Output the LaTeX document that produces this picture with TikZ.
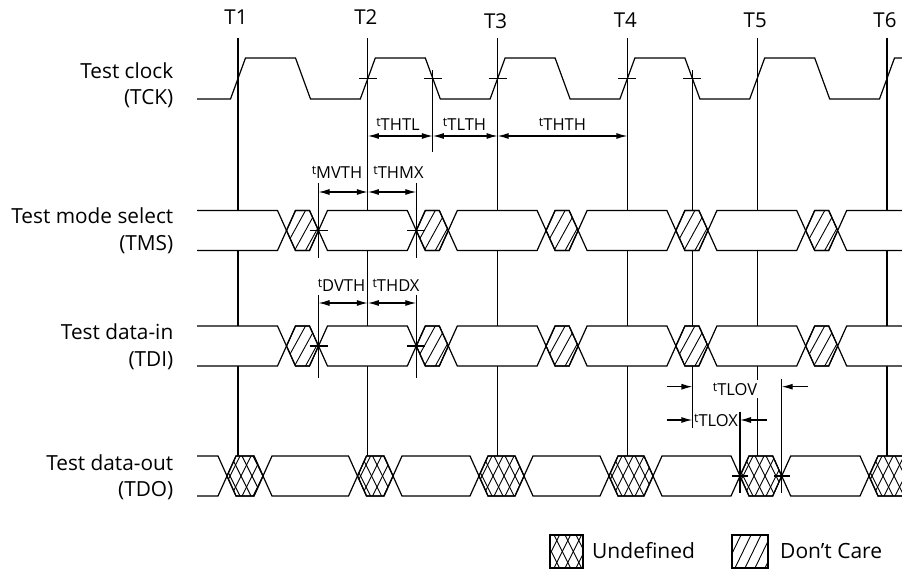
\documentclass[tikz,border=0pt]{standalone}
\usepackage{fontspec}
\setmainfont{Open Sans}
\usetikzlibrary{arrows.meta}
\newcommand{\tsub}[1]{{\fontsize{12.5}{13}\selectfont\raisebox{4pt}{t}}#1}
\newcommand{\dataseg}[3]{\filldraw[sig,fill=white] (#1,#3+20) -- (#1+9,#3) -- (#2-9,#3) -- (#2,#3+20) -- (#2-9,#3+40) -- (#1+9,#3+40) -- cycle;}
\newcommand{\dcseg}[3]{\dataseg{#1}{#2}{#3}%
  \begin{scope}\clip (#1,#3+20) -- (#1+9,#3) -- (#2-9,#3) -- (#2,#3+20) -- (#2-9,#3+40) -- (#1+9,#3+40) -- cycle;
  \foreach \k in {0,11,...,88} {\draw[hatch] (#1-36+\k,#3+40) -- ++(22,-40);}\end{scope}%
  \draw[sig] (#1,#3+20) -- (#1+9,#3) -- (#2-9,#3) -- (#2,#3+20) -- (#2-9,#3+40) -- (#1+9,#3+40) -- cycle;}
\newcommand{\udseg}[3]{\dataseg{#1}{#2}{#3}%
  \begin{scope}\clip (#1,#3+20) -- (#1+9,#3) -- (#2-9,#3) -- (#2,#3+20) -- (#2-9,#3+40) -- (#1+9,#3+40) -- cycle;
  \foreach \k in {0,11,...,110} {\draw[hatch] (#1-40+\k,#3+40) -- ++(20,-40); \draw[hatch] (#1-40+\k,#3) -- ++(20,40);}\end{scope}%
  \draw[sig] (#1,#3+20) -- (#1+9,#3) -- (#2-9,#3) -- (#2,#3+20) -- (#2-9,#3+40) -- (#1+9,#3+40) -- cycle;}
\newcommand{\firstseg}[2]{\fill[white] (197,#2) -- (#1-9,#2) -- (#1,#2+20) -- (#1-9,#2+40) -- (197,#2+40) -- cycle;
  \draw[sig] (197,#2) -- (#1-9,#2) -- (#1,#2+20) -- (#1-9,#2+40) -- (197,#2+40);}
\newcommand{\lastseg}[2]{\fill[white] (902,#2) -- (#1+9,#2) -- (#1,#2+20) -- (#1+9,#2+40) -- (902,#2+40) -- cycle;
  \draw[sig] (902,#2) -- (#1+9,#2) -- (#1,#2+20) -- (#1+9,#2+40) -- (902,#2+40);}
\newcommand{\inputsig}[1]{%
  \firstseg{286.5}{#1}
  \dcseg{286.5}{318.5}{#1}
  \dataseg{318.5}{416.3}{#1}
  \dcseg{416.3}{448.3}{#1}
  \dataseg{448.3}{546.1}{#1}
  \dcseg{546.1}{578.1}{#1}
  \dataseg{578.1}{675.9}{#1}
  \dcseg{675.9}{707.9}{#1}
  \dataseg{707.9}{805.7}{#1}
  \dcseg{805.7}{837.7}{#1}
  \lastseg{837.7}{#1}}
\begin{document}
\begin{tikzpicture}[x=1pt,y=-1pt,
  sig/.style={line width=1.2pt,line join=miter},
  wave/.style={line width=1.2pt},
  ref/.style={line width=1.2pt},
  hatch/.style={line width=0.9pt},
  meas/.style={line width=1.2pt,{Latex[length=11pt,width=6pt]}-{Latex[length=11pt,width=6pt]}},
  measr/.style={line width=1.2pt,-{Latex[length=11pt,width=6pt]}},
  siglabel/.style={anchor=base east,inner sep=0pt,font=\fontsize{20.8}{24}\selectfont},
  tlabel/.style={anchor=base,inner sep=0pt,font=\fontsize{20.5}{22}\selectfont},
  tmlabel/.style={anchor=base,inner sep=0pt,font=\fontsize{16.5}{18}\selectfont},
  leglabel/.style={anchor=base west,inner sep=0pt,font=\fontsize{21}{24}\selectfont}]
\useasboundingbox (0,0) rectangle (902,569);

% clock edge reference lines T1..T6
\foreach \n/\x/\b in {1/238/25,2/367.8/25,3/497.6/28.3,4/627.4/27.3,5/757.2/27.3,6/887/27.3}{
  \node[tlabel] (T\n) at (\x-2,\b) {T\n};
  \coordinate (T\n top) at (\x,38);
  \coordinate (T\n bot) at (\x,456);
  \draw[ref] (T\n top) -- (T\n bot);
}
% falling-edge reference lines
\coordinate (F2top) at (432.8,70);
\coordinate (F2bot) at (432.8,152);
\coordinate (F4top) at (692.4,70);
\coordinate (F4bot) at (692.4,428);
\draw[ref] (F2top) -- (F2bot);
\draw[ref] (F4top) -- (F4bot);

% test clock
\draw[wave] (197,99) foreach \t in {238,367.8,497.6,627.4,757.2} { -- (\t-7.5,99) -- (\t+7.5,58) -- (\t+57.5,58) -- (\t+72.5,99) } -- (879.5,99) -- (894.5,58) -- (902,58);
\foreach \x in {367.8,432.8,497.6,627.4,692.4} \draw[ref] (\x-9,78.5) -- (\x+9,78.5);

% TMS and TDI
\inputsig{210.5}
\inputsig{326}

% TDO
\firstseg{227}{456}
\udseg{227}{263}{456}
\dataseg{263}{357.5}{456}
\udseg{357.5}{393}{456}
\dataseg{393}{479}{456}
\udseg{479}{524}{456}
\dataseg{524}{609}{456}
\udseg{609}{653}{456}
\dataseg{653}{740}{456}
\udseg{740}{781.7}{456}
\dataseg{781.7}{869}{456}
\begin{scope}\clip (860,440) rectangle (902,510);
\udseg{869}{940}{456}
\end{scope}

% signal names
\node[siglabel] (n1) at (173.5,78.3) {Test clock};
\node[siglabel] (n2) at (173.5,105) {(TCK)};
\node[siglabel] (n3) at (173.5,224) {Test mode select};
\node[siglabel] (n4) at (173.5,250.7) {(TMS)};
\node[siglabel] (n5) at (173.5,339.3) {Test data-in};
\node[siglabel] (n6) at (173.5,366.7) {(TDI)};
\node[siglabel] (n7) at (173.5,470) {Test data-out};
\node[siglabel] (n8) at (173.5,496.7) {(TDO)};

% clock timing
\coordinate (a1) at (367.8,136);
\coordinate (a2) at (432.8,136);
\coordinate (a3) at (497.6,136);
\coordinate (a4) at (627.4,136);
\draw[meas] (a1) -- (a2);
\draw[meas] (a2) -- (a3);
\draw[meas] (a3) -- (a4);
\node[tmlabel] (THTL) at (398,130.7) {\tsub{THTL}};
\node[tmlabel] (TLTH) at (464.5,130.7) {\tsub{TLTH}};
\node[tmlabel] (THTH) at (562.5,130.7) {\tsub{THTH}};

% TMS setup / hold
\coordinate (m1top) at (318.5,183);
\coordinate (m1bot) at (318.5,258);
\coordinate (m2top) at (416.3,183);
\coordinate (m2bot) at (416.3,258);
\draw[ref] (m1top) -- (m1bot);
\draw[ref] (m2top) -- (m2bot);
\draw[ref] (309.5,230.5) -- (327.5,230.5);
\draw[ref] (407.3,230.5) -- (425.3,230.5);
\coordinate (b1) at (318.5,192);
\coordinate (b2) at (367.8,192);
\coordinate (b3) at (416.3,192);
\draw[meas] (b1) -- (b2);
\draw[meas] (b2) -- (b3);
\node[tmlabel] (MVTH) at (337,178.3) {\tsub{MVTH}};
\node[tmlabel] (THMX) at (398.5,178.3) {\tsub{THMX}};

% TDI setup / hold
\coordinate (d1top) at (318.5,295);
\coordinate (d1bot) at (318.5,378);
\coordinate (d2top) at (416.3,295);
\coordinate (d2bot) at (416.3,378);
\draw[ref] (d1top) -- (d1bot);
\draw[ref] (d2top) -- (d2bot);
\draw[ref] (309.5,346) -- (327.5,346);
\draw[ref] (407.3,346) -- (425.3,346);
\coordinate (c1) at (318.5,303);
\coordinate (c2) at (367.8,303);
\coordinate (c3) at (416.3,303);
\draw[meas] (c1) -- (c2);
\draw[meas] (c2) -- (c3);
\node[tmlabel] (DVTH) at (341.5,291.7) {\tsub{DVTH}};
\node[tmlabel] (THDX) at (396,291.7) {\tsub{THDX}};

% TDO output timing
\coordinate (o1top) at (740,411.7);
\coordinate (o1bot) at (740,493);
\coordinate (o2top) at (781.7,379);
\coordinate (o2bot) at (781.7,493);
\draw[ref] (o1top) -- (o1bot);
\draw[ref] (o2top) -- (o2bot);
\draw[ref] (732,476) -- (748,476);
\draw[ref] (773.7,476) -- (789.7,476);
\coordinate (v0) at (666.7,386.7);
\coordinate (v1) at (692.4,386.7);
\coordinate (v2) at (781.7,386.7);
\coordinate (v3) at (808,386.7);
\draw[measr] (v0) -- (v1);
\draw[measr] (v3) -- (v2);
\coordinate (x0) at (666.7,420);
\coordinate (x1) at (692.4,420);
\coordinate (x2) at (740,420);
\coordinate (x3) at (766.7,420);
\draw[measr] (x0) -- (x1);
\draw[measr] (x3) -- (x2);
\node[tmlabel,fill=white,inner sep=2.5pt] (TLOV) at (735,395) {\tsub{TLOV}};
\node[tmlabel] (TLOX) at (716,426.7) {\tsub{TLOX}};

% legend
\begin{scope}
\clip (550,535) rectangle (583,568);
\foreach \k in {0,11,...,88} {\draw[hatch] (510+\k,568) -- ++(16.5,-33); \draw[hatch] (510+\k,535) -- ++(16.5,33);}
\end{scope}
\draw[sig] (550,535) rectangle (583,568);
\node[leglabel] (Lund) at (592,558) {Undefined};
\begin{scope}
\clip (732,535) rectangle (768,568);
\foreach \k in {0,10,...,80} {\draw[hatch] (705+\k,568) -- ++(16,-33);}
\end{scope}
\draw[sig] (732,535) rectangle (768,568);
\node[leglabel] (Ldc) at (780,558) {Don’t Care};
\end{tikzpicture}
\end{document}
